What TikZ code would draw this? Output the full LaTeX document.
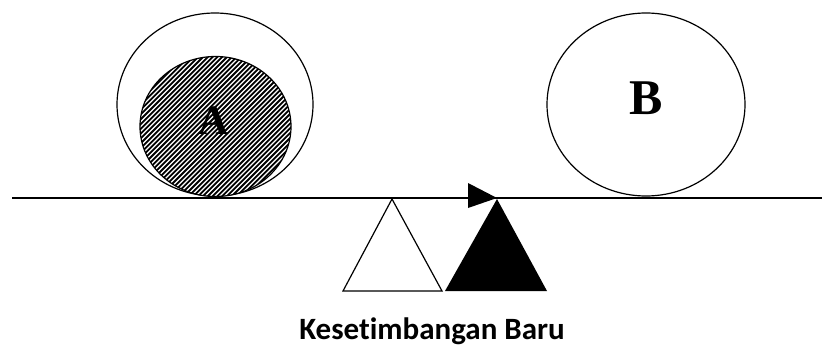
\documentclass[tikz,border=0pt]{standalone}
\usepackage{fontspec}
\setmainfont{Liberation Serif}
\newfontfamily\labelfont[Ligatures={NoCommon}]{Carlito}
\begin{document}
\begin{tikzpicture}[x=1pt,y=-1pt,
  ring/.style={draw=black,line width=1.2pt},
  letter/.style={font=\fontsize{50}{50}\selectfont\bfseries,inner sep=0pt},
  caption/.style={font=\labelfont\fontsize{31}{31}\selectfont\bfseries,inner sep=0pt}]
\useasboundingbox (0,0) rectangle (822,348);
% outer circle A
\draw[ring] (215,104.5) ellipse [x radius=98, y radius=91.5];
% inner hatched circle
\begin{scope}
  \clip (215.5,126.5) ellipse [x radius=75.5, y radius=70];
  \fill[white] (130,50) rectangle (300,200);
  \foreach \k in {-40,...,80}{
    \draw[line width=1.8pt] (60+4.8*\k,200) -- (60+4.8*\k+160,40);
  }
\end{scope}
\draw[ring] (215.5,126.5) ellipse [x radius=75.5, y radius=70];
\node[letter,font=\fontsize{42}{42}\selectfont\bfseries] (A) at (214,121) {A};
% circle B
\draw[ring] (646,104.5) ellipse [x radius=99, y radius=91.5];
\node[letter] (B) at (646,98) {B};
% beam
\coordinate (L) at (12,198);
\coordinate (R) at (822,198);
\draw[line width=2.8pt] (L) -- (R);
% arrow head on beam
\fill (468,183) -- (497,198) -- (468,208) -- cycle;
% white triangle (old pivot)
\draw[line width=1.2pt,fill=white] (392,199) -- (442,291) -- (343,291) -- cycle;
% black triangle (new pivot)
\fill (497,199) -- (547,291) -- (445,291) -- cycle;
% caption
\node[caption,anchor=base] (cap) at (432,339) {Kesetimbangan Baru};
\end{tikzpicture}
\end{document}
